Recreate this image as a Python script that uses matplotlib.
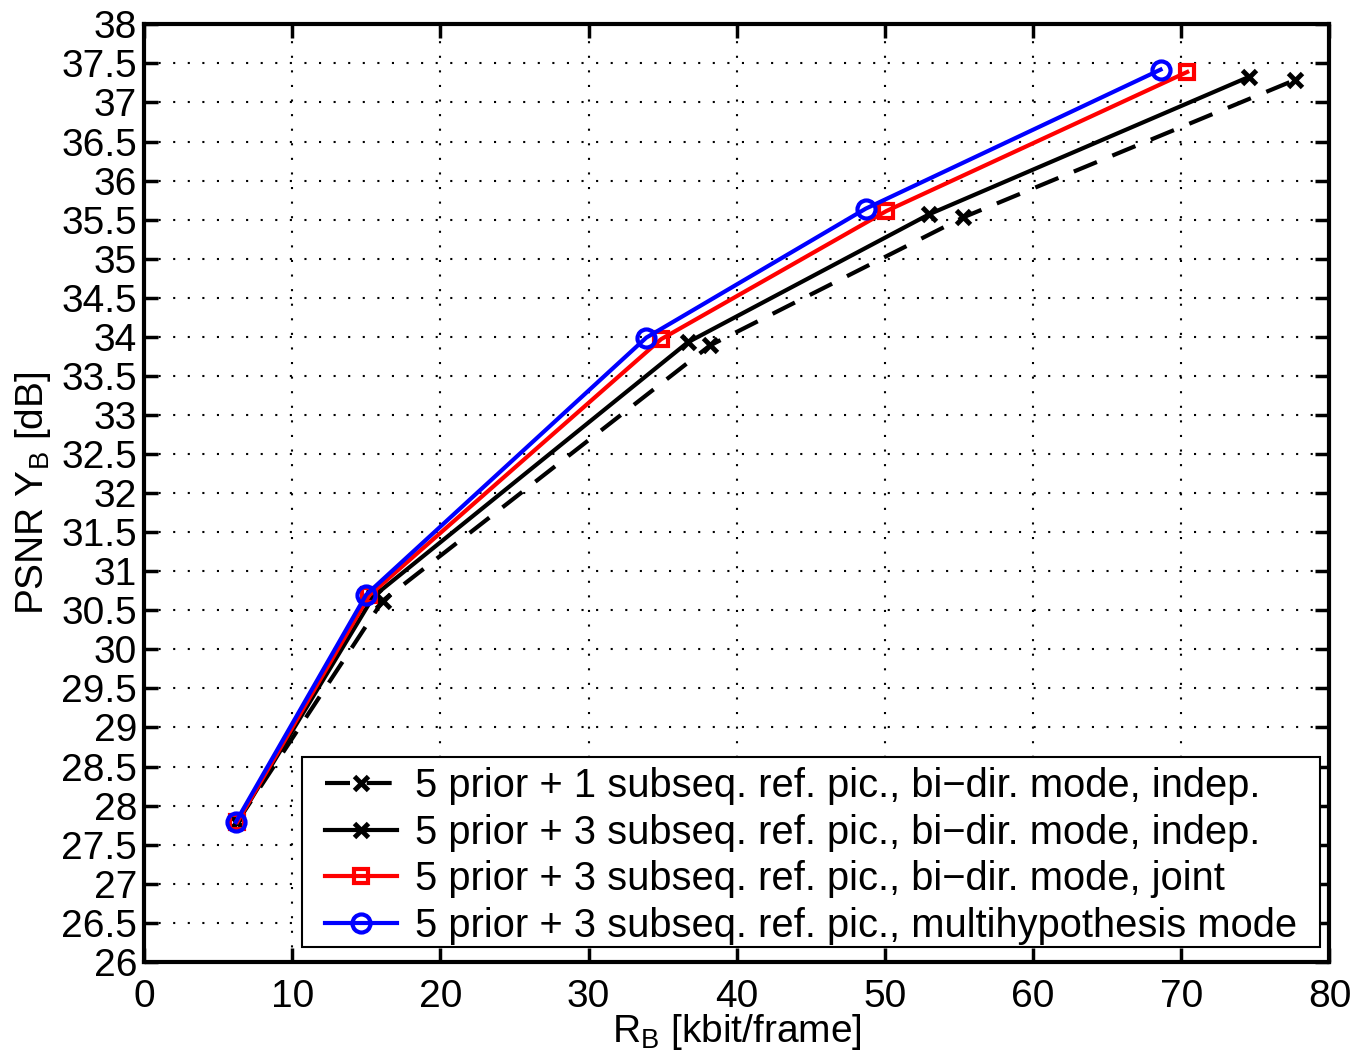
import numpy as np
import matplotlib.pyplot as plt
from matplotlib.patches import Rectangle

plt.rcParams['font.family'] = ['Liberation Sans', 'DejaVu Sans']
plt.rcParams['mathtext.fontset'] = 'custom'
plt.rcParams['mathtext.rm'] = 'Liberation Sans'

# data
rate_1sub = [6.3, 16.1, 38.2, 55.3, 77.7]
psnr_1sub = [27.79, 30.62, 33.89, 35.53, 37.29]

rate_3sub = [6.3, 15.5, 36.7, 53.0, 74.6]
psnr_3sub = [27.79, 30.68, 33.93, 35.57, 37.33]

rate_joint = [6.3, 15.2, 34.9, 50.1, 70.4]
psnr_joint = [27.79, 30.69, 33.97, 35.61, 37.39]

rate_mh = [6.2, 15.0, 33.9, 48.7, 68.6]
psnr_mh = [27.79, 30.70, 33.99, 35.64, 37.42]

labels = [
    '5 prior + 1 subseq. ref. pic., bi\u2212dir. mode, indep.',
    '5 prior + 3 subseq. ref. pic., bi\u2212dir. mode, indep.',
    '5 prior + 3 subseq. ref. pic., bi\u2212dir. mode, joint',
    '5 prior + 3 subseq. ref. pic., multihypothesis mode',
]

FS = 28

fig = plt.figure(figsize=(13.58, 10.57), dpi=100)
ax = fig.add_axes([0.106, 0.09, 0.873, 0.887])

lw = 3
ax.plot(rate_1sub, psnr_1sub, color='k', ls=(0, (6, 4)), lw=lw, marker='x',
        ms=10, mew=3.5, label=labels[0])
ax.plot(rate_3sub, psnr_3sub, color='k', ls='-', lw=lw, marker='x',
        ms=10, mew=3.5, label=labels[1])
ax.plot(rate_joint, psnr_joint, color='r', ls='-', lw=lw, marker='s',
        ms=10, mew=3, mfc='none', label=labels[2])
ax.plot(rate_mh, psnr_mh, color='b', ls='-', lw=lw, marker='o',
        ms=13, mew=3, mfc='none', label=labels[3])

ax.set_xlim(0, 80)
ax.set_ylim(26, 38)
ax.set_xticks(np.arange(0, 81, 10))
yt = np.arange(26, 38.01, 0.5)
ax.set_yticks(yt)
ax.set_yticklabels([f'{v:g}' for v in yt])
ax.tick_params(direction='in', length=10, width=2.5, labelsize=FS,
               top=True, right=True, pad=5)
ax.tick_params(axis='x', pad=12)
ax.grid(True, color='k', ls=(0, (1, 6)), lw=1.5)
for s in ax.spines.values():
    s.set_linewidth(3)

ax.set_xlabel(r'R$_\mathregular{B}$ [kbit/frame]', fontsize=FS, labelpad=-2)
ax.set_ylabel(r'PSNR Y$_\mathregular{B}$ [dB]', fontsize=FS, labelpad=6)

# legend box drawn separately so its padding matches the reference
box = Rectangle((0.1332, 0.016), 0.9916 - 0.1332, 0.2186 - 0.016,
                transform=ax.transAxes, facecolor='white', edgecolor='k',
                lw=1.5, zorder=4.9)
ax.add_patch(box)

leg = ax.legend(loc='upper left', fontsize=28.7, frameon=False,
                borderpad=0, labelspacing=0.22, borderaxespad=0,
                handlelength=1.8, handletextpad=0.45,
                bbox_to_anchor=(0.1526, 0.208))
leg.set_zorder(5)

fig.savefig('out.png', dpi=100)
